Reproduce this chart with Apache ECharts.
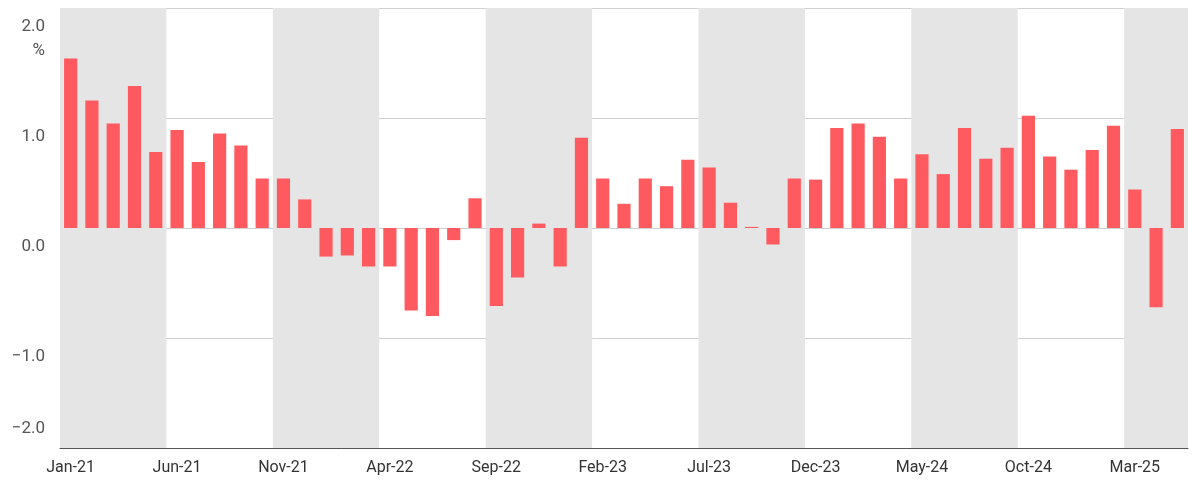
<!DOCTYPE html>
<html><head><meta charset="utf-8">
<script src="https://cdn.jsdelivr.net/npm/echarts@6/dist/echarts.min.js"></script>
<style>html,body{margin:0;padding:0;background:#fff}#c{width:1200px;height:492px}</style>
</head><body><div id="c"></div>
<script>
const monthNames=['Jan','Feb','Mar','Apr','May','Jun','Jul','Aug','Sep','Oct','Nov','Dec'];
const categories=[];
for(let y=21;y<=25;y++){for(let m=0;m<12;m++){if(y===25&&m>4)break;categories.push(monthNames[m]+'-'+y);}}
const values=[1.54,1.16,0.95,1.29,0.69,0.89,0.60,0.86,0.75,0.45,0.45,0.26,
-0.26,-0.25,-0.35,-0.35,-0.75,-0.80,-0.11,0.27,-0.71,-0.45,0.04,-0.35,
0.82,0.45,0.22,0.45,0.38,0.62,0.55,0.23,0.01,-0.15,0.45,0.44,
0.91,0.95,0.83,0.45,0.67,0.49,0.91,0.63,0.73,1.02,0.65,0.53,
0.71,0.93,0.35,-0.72,0.90];
const yTicks=[-2,-1,0,1,2];
const fmt=v=>(v<0?'\u2212':'')+Math.abs(v).toFixed(1);
const chart=echarts.init(document.getElementById('c'));
chart.setOption({
animation:false,
grid:{left:60,right:12,top:8,bottom:44},
graphic:[{type:'text',right:1155,top:420,style:{text:fmt(-2),fill:'#555',font:'17px Roboto',textAlign:'right'}}],
xAxis:{type:'category',data:categories,
 axisLine:{onZero:false,lineStyle:{color:'#555',width:1}},axisTick:{show:false},
 axisLabel:{interval:4,color:'#333',fontFamily:'Roboto',fontSize:16,margin:12},
 splitArea:{show:true,interval:4,areaStyle:{color:['#e5e5e5','rgba(255,255,255,0)']}}},
yAxis:{type:'value',min:-2,max:2,interval:1,
 axisLine:{show:false},axisTick:{show:false},
 splitLine:{lineStyle:{color:'#d0d0d0'}},
 axisLabel:{color:'#555',fontFamily:'Roboto',fontSize:17,margin:15,verticalAlign:'top',align:'right',padding:[7,0,0,0],
  formatter:v=>{if(v===-2)return '';const s=fmt(v);return v===2?s+'\n%':s;},lineHeight:24}},
series:[{type:'bar',data:values,barWidth:'62%',itemStyle:{color:'#ff5a5f'}}]
});
</script></body></html>
